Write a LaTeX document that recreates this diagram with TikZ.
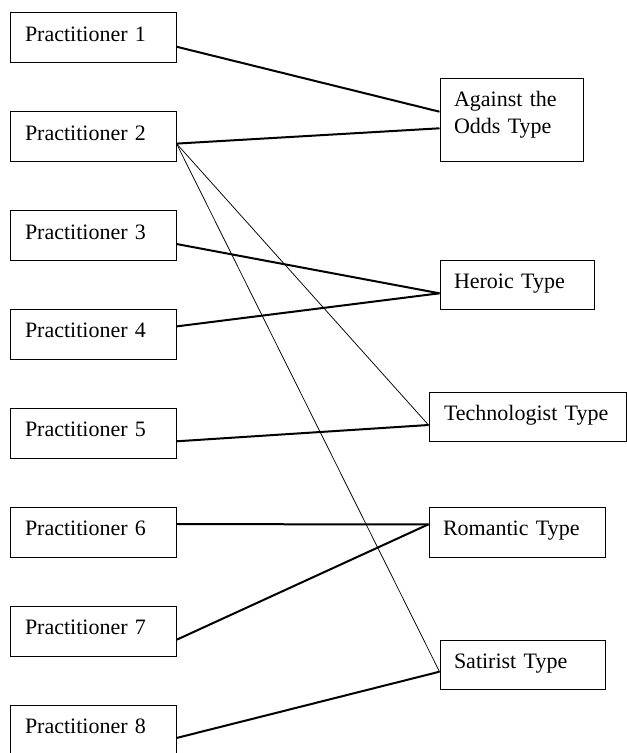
\documentclass[tikz,border=0pt]{standalone}
\usepackage{fontspec}
\setmainfont{Liberation Serif}
\begin{document}
\begin{tikzpicture}[x=1pt,y=-1pt,
  box/.style={draw=black, line width=1pt, rectangle, inner ysep=0pt,
    font=\fontsize{22}{27.3}\selectfont, align=left,
    text height=15pt, text depth=8pt},
  pbox/.style={box, minimum width=166pt, minimum height=50pt, inner xsep=15pt, text width=136pt},
  tbox/.style={box, inner xsep=14pt},
  heavy/.style={line width=2pt},
  light/.style={line width=0.75pt}
]
\clip (0,0) rectangle (627,753);
% practitioners
\node[pbox] (p1) at (93,37.7) {Practitioner 1};
\node[pbox] (p2) at (93,136.6) {Practitioner 2};
\node[pbox] (p3) at (93,235.5) {Practitioner 3};
\node[pbox] (p4) at (93,334.4) {Practitioner 4};
\node[pbox] (p5) at (93,433.3) {Practitioner 5};
\node[pbox] (p6) at (93,532.2) {Practitioner 6};
\node[pbox] (p7) at (93,631.1) {Practitioner 7};
\node[pbox] (p8) at (93,730.0) {Practitioner 8};
% types
\node[tbox, minimum width=143pt, minimum height=82.7pt, text width=115pt, text depth=42.3pt] (ao) at (511.5,120.3) {Against the\\Odds Type};
\node[tbox, minimum width=154pt, minimum height=49.3pt, text width=126pt] (her) at (517,285.3) {Heroic Type};
\node[tbox, inner xsep=15pt, minimum width=197pt, minimum height=49.3pt, text width=167pt] (tech) at (527.5,417.3) {Technologist Type};
\node[tbox, minimum width=176pt, minimum height=50pt, text width=148pt] (rom) at (517,532.3) {Romantic Type};
\node[tbox, minimum width=165pt, minimum height=49.3pt, text width=137pt] (sat) at (522.5,664.7) {Satirist Type};
% end points
\coordinate (herin) at ([yshift=-8pt]her.west);
\coordinate (techin) at ([yshift=-7.7pt]tech.west);
\coordinate (romin) at ([yshift=8pt]rom.west);
\coordinate (satin) at ([yshift=-7pt]sat.west);
\coordinate (p2out) at ([yshift=-7pt]p2.east);
% connectors
\draw[heavy] ([yshift=-9pt]p1.east) -- ([yshift=8.6pt]ao.west);
\draw[heavy] (p2out) -- ([yshift=-8pt]ao.west);
\draw[light] (p2out) -- (techin);
\draw[light] (p2out) -- (satin);
\draw[heavy] ([yshift=-8.5pt]p3.east) -- (herin);
\draw[heavy] ([yshift=8pt]p4.east) -- (herin);
\draw[heavy] ([yshift=-8pt]p5.east) -- (techin);
\draw[heavy] ([yshift=8pt]p6.east) -- (romin);
\draw[heavy] ([yshift=-8.7pt]p7.east) -- (romin);
\draw[heavy] ([yshift=-8pt]p8.east) -- (satin);
\end{tikzpicture}
\end{document}
